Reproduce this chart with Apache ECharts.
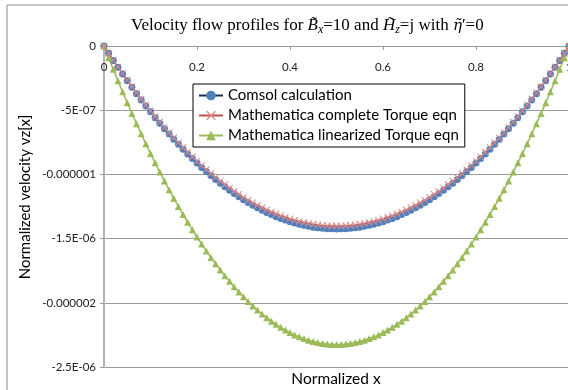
<!DOCTYPE html>
<html>
<head>
<meta charset="utf-8">
<script src="https://cdn.jsdelivr.net/npm/echarts@6/dist/echarts.min.js"></script>
<style>
  html, body { margin: 0; padding: 0; background: #fff; overflow: hidden; }
  /* the plot runs a little past the right edge, as in the original picture */
  #chart { width: 580px; height: 390px; }
</style>
</head>
<body>
<div id="chart"></div>
<script>
// values, y in units of 1E-06
var xs = [0, 0.01, 0.02, 0.03, 0.04, 0.05, 0.06, 0.07, 0.08, 0.09,
  0.1, 0.11, 0.12, 0.13, 0.14, 0.15, 0.16, 0.17, 0.18, 0.19,
  0.2, 0.21, 0.22, 0.23, 0.24, 0.25, 0.26, 0.27, 0.28, 0.29,
  0.3, 0.31, 0.32, 0.33, 0.34, 0.35, 0.36, 0.37, 0.38, 0.39,
  0.4, 0.41, 0.42, 0.43, 0.44, 0.45, 0.46, 0.47, 0.48, 0.49,
  0.5, 0.51, 0.52, 0.53, 0.54, 0.55, 0.56, 0.57, 0.58, 0.59,
  0.6, 0.61, 0.62, 0.63, 0.64, 0.65, 0.66, 0.67, 0.68, 0.69,
  0.7, 0.71, 0.72, 0.73, 0.74, 0.75, 0.76, 0.77, 0.78, 0.79,
  0.8, 0.81, 0.82, 0.83, 0.84, 0.85, 0.86, 0.87, 0.88, 0.89,
  0.9, 0.91, 0.92, 0.93, 0.94, 0.95, 0.96, 0.97, 0.98, 0.99, 1];

var comsol = [0, -0.056, -0.112, -0.166, -0.219, -0.271, -0.321, -0.371, -0.420, -0.467,
  -0.513, -0.558, -0.602, -0.645, -0.686, -0.727, -0.766, -0.804, -0.841, -0.877,
  -0.912, -0.946, -0.978, -1.009, -1.040, -1.069, -1.097, -1.123, -1.149, -1.174,
  -1.197, -1.219, -1.240, -1.260, -1.279, -1.297, -1.313, -1.329, -1.343, -1.356,
  -1.368, -1.379, -1.389, -1.397, -1.404, -1.411, -1.416, -1.420, -1.423, -1.424,
  -1.425, -1.424, -1.423, -1.420, -1.416, -1.411, -1.404, -1.397, -1.389, -1.379,
  -1.368, -1.356, -1.343, -1.329, -1.313, -1.297, -1.279, -1.260, -1.240, -1.219,
  -1.197, -1.174, -1.149, -1.123, -1.097, -1.069, -1.040, -1.009, -0.978, -0.946,
  -0.912, -0.877, -0.841, -0.804, -0.766, -0.727, -0.686, -0.645, -0.602, -0.558,
  -0.513, -0.467, -0.420, -0.371, -0.321, -0.271, -0.219, -0.166, -0.112, -0.056, 0];

var complete = [0, -0.056, -0.110, -0.163, -0.215, -0.266, -0.316, -0.365, -0.413, -0.459,
  -0.505, -0.549, -0.592, -0.634, -0.675, -0.715, -0.754, -0.791, -0.828, -0.863,
  -0.897, -0.930, -0.962, -0.993, -1.023, -1.052, -1.079, -1.105, -1.131, -1.155,
  -1.178, -1.200, -1.220, -1.240, -1.258, -1.276, -1.292, -1.307, -1.321, -1.334,
  -1.346, -1.357, -1.366, -1.375, -1.382, -1.388, -1.393, -1.397, -1.400, -1.401,
  -1.402, -1.401, -1.400, -1.397, -1.393, -1.388, -1.382, -1.375, -1.366, -1.357,
  -1.346, -1.334, -1.321, -1.307, -1.292, -1.276, -1.258, -1.240, -1.220, -1.200,
  -1.178, -1.155, -1.131, -1.105, -1.079, -1.052, -1.023, -0.993, -0.962, -0.930,
  -0.897, -0.863, -0.828, -0.791, -0.754, -0.715, -0.675, -0.634, -0.592, -0.549,
  -0.505, -0.459, -0.413, -0.365, -0.316, -0.266, -0.215, -0.163, -0.110, -0.056, 0];

var linearized = [0, -0.092, -0.182, -0.271, -0.357, -0.442, -0.525, -0.605, -0.684, -0.762,
  -0.837, -0.910, -0.982, -1.052, -1.120, -1.186, -1.250, -1.312, -1.373, -1.431,
  -1.488, -1.543, -1.596, -1.647, -1.696, -1.744, -1.789, -1.833, -1.875, -1.915,
  -1.953, -1.989, -2.024, -2.056, -2.087, -2.116, -2.143, -2.168, -2.191, -2.212,
  -2.232, -2.250, -2.265, -2.279, -2.292, -2.302, -2.310, -2.317, -2.321, -2.324,
  -2.325, -2.324, -2.321, -2.317, -2.310, -2.302, -2.292, -2.279, -2.265, -2.250,
  -2.232, -2.212, -2.191, -2.168, -2.143, -2.116, -2.087, -2.056, -2.024, -1.989,
  -1.953, -1.915, -1.875, -1.833, -1.789, -1.744, -1.696, -1.647, -1.596, -1.543,
  -1.488, -1.431, -1.373, -1.312, -1.250, -1.186, -1.120, -1.052, -0.982, -0.910,
  -0.837, -0.762, -0.684, -0.605, -0.525, -0.442, -0.357, -0.271, -0.182, -0.092, 0];

var yTickLabels = ['0', '-5E-07', '-0.000001', '-1.5E-06', '-0.000002', '-2.5E-06'];
var xTickLabels = ['0', '0.2', '0.4', '0.6', '0.8', '1'];
var seriesNames = ['Comsol calculation', 'Mathematica complete Torque eqn', 'Mathematica linearized Torque eqn'];

function pairs(ys) {
  return xs.map(function (x, i) { return [x, ys[i]] })
}

var sans = 'Lato, "Open Sans", sans-serif';
var serif = '"Liberation Serif", serif';
var crossPath = 'path://M0,1 L1,0 L5,4 L9,0 L10,1 L6,5 L10,9 L9,10 L5,6 L1,10 L0,9 L4,5 Z';

var myChart = echarts.init(document.getElementById('chart'));
var option = {
  animation: false,
  title: {
    left: 126,
    top: 11,
    text: 'Velocity flow profiles for {it|B\u0303}{sub|x}=10 and {it|H\u0303}{sub|z}=j with {eta|\u03b7\u0303}\u2032=0',
    textStyle: {
      fontFamily: serif,
      fontWeight: 'normal',
      fontSize: 17,
      color: '#000',
      rich: {
        it: { fontFamily: serif, fontSize: 17, fontStyle: 'italic', color: '#000' },
        eta: { fontFamily: '"DejaVu Serif", serif', fontSize: 15, fontStyle: 'italic', color: '#000' },
        sub: { fontFamily: serif, fontSize: 12, fontStyle: 'italic', color: '#000', verticalAlign: 'bottom', padding: [8, 0, 0, 0] }
      }
    }
  },
  graphic: [
    { type: 'rect', shape: { x: 7, y: 5, width: 620, height: 420 }, style: { fill: 'none', stroke: '#8c8c8c', lineWidth: 1 }, z: -1 },
    {
      type: 'text', x: 25, y: 197, rotation: Math.PI / 2,
      style: { text: 'Normalized velocity vz[x]', fontFamily: sans, fontSize: 15, fill: '#000', align: 'center', verticalAlign: 'middle' }
    },
    {
      type: 'text', x: 336, y: 379,
      style: { text: 'Normalized x', fontFamily: sans, fontSize: 15.5, fill: '#000', align: 'center', verticalAlign: 'middle' }
    }
  ],
  legend: {
    orient: 'vertical',
    left: 193,
    top: 84,
    padding: [4, 6, 4, 5],
    itemGap: 5,
    itemWidth: 24,
    itemHeight: 12,
    backgroundColor: '#fff',
    borderColor: '#000',
    borderWidth: 1,
    textStyle: { fontFamily: sans, fontSize: 15, color: '#000' },
    data: seriesNames
  },
  grid: { left: 104, top: 46, width: 465, height: 321, containLabel: false },
  xAxis: {
    type: 'value',
    position: 'top',
    min: 0,
    max: 1,
    interval: 0.2,
    axisLine: { onZero: false, lineStyle: { color: '#9a9a9a', width: 1 } },
    axisTick: { inside: true, length: 4, lineStyle: { color: '#9a9a9a' } },
    axisLabel: {
      inside: true, margin: 15, fontFamily: sans, fontSize: 11.5, color: '#222',
      formatter: function (v) { return xTickLabels[Math.round(v / 0.2)] }
    },
    splitLine: { show: false }
  },
  yAxis: {
    type: 'value',
    min: -2.5,
    max: 0,
    interval: 0.5,
    axisLine: { show: true, lineStyle: { color: '#b4b4b4', width: 2 } },
    axisTick: { show: true, length: 4, lineStyle: { color: '#9a9a9a' } },
    axisLabel: {
      margin: 8, fontFamily: sans, fontSize: 11.5, color: '#222',
      formatter: function (v) { return yTickLabels[Math.round(-v / 0.5)] }
    },
    splitLine: { lineStyle: { color: '#9a9a9a', width: 1 } }
  },
  series: [
    {
      name: seriesNames[0],
      type: 'line',
      data: pairs(comsol),
      symbol: 'circle',
      symbolSize: 7,
      showAllSymbol: true,
      lineStyle: { color: '#1f2f4f', width: 1 },
      itemStyle: { color: '#4f81bd' },
      z: 2
    },
    {
      name: seriesNames[1],
      type: 'line',
      data: pairs(complete),
      symbol: crossPath,
      symbolSize: 7,
      showAllSymbol: true,
      lineStyle: { color: '#c0504d', width: 1 },
      itemStyle: { color: '#e08a88' },
      z: 3
    },
    {
      name: seriesNames[2],
      type: 'line',
      data: pairs(linearized),
      symbol: 'triangle',
      symbolSize: 7,
      showAllSymbol: true,
      lineStyle: { color: '#9bbb59', width: 1.5 },
      itemStyle: { color: '#9bbb59' },
      z: 2
    }
  ]
};
myChart.setOption(option);
</script>
</body>
</html>
